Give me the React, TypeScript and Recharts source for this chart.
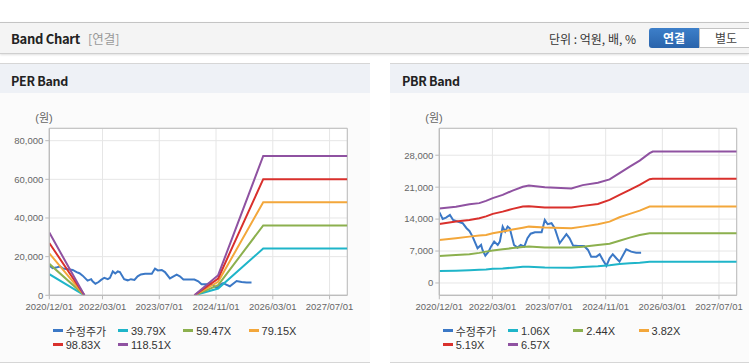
import React from 'react';
import { LineChart, Line, XAxis, YAxis, CartesianGrid, ReferenceArea, Legend, Label } from 'recharts';

// x axis: months since 2020/12/01
const xTickMonths = [0, 15, 31, 47, 63, 79];
const xTickLabels = ['2020/12/01', '2022/03/01', '2023/07/01', '2024/11/01', '2026/03/01', '2027/07/01'];

// 수정주가 (adjusted price)
const priceMonths = [0, 0.96, 1.9, 3.0, 3.9, 5.2, 6.6, 7.7, 8.5, 9.4, 10.8, 11.8, 12.2, 13.0, 13.9, 14.6, 15.5, 16.5, 17.1, 17.9, 18.6, 19.3, 19.9, 21.1, 22.1, 23.0, 24.0, 24.9, 25.8, 27.0, 28.9, 29.8, 30.6, 31.7, 32.6, 34.0, 35.9, 36.8, 37.8, 39.2, 40.9, 42.0, 42.9, 44.4, 45.3, 46.2, 47.2, 48.1, 49.0, 50.0, 50.9, 52.8, 54.2, 55.6, 57.0];
const priceValues = [15500, 14040, 14330, 14920, 13820, 13450, 13100, 12000, 11410, 10160, 7610, 8340, 7240, 5990, 6870, 7960, 9060, 8340, 9060, 12350, 11260, 12350, 12000, 8340, 7750, 8340, 7960, 9800, 10800, 11120, 11120, 13820, 12880, 13100, 12000, 8710, 10680, 9800, 8190, 8120, 8120, 7240, 5770, 5770, 6300, 5050, 3770, 5400, 6300, 5420, 4670, 7390, 6870, 6650, 6650];

// PER band
const perMonths = [0, 9.9, 25, 40.9, 47.6, 60.3, 84];
const per3979 = [10900, 0, null, 0, 3500, 24200, 24200];
const per5947 = [16290, 0, null, 0, 5230, 36170, 36170];
const per7915 = [21680, 0, null, 0, 6960, 48130, 48130];
const per9883 = [27070, 0, null, 0, 8690, 60100, 60100];
const per11851 = [32460, 0, null, 0, 10420, 72070, 72070];
const perNames = ['39.79X', '59.47X', '79.15X', '98.83X', '118.51X'];
const perTicks = [0, 20000, 40000, 60000, 80000];
const perDomain = [0, 86400];

// PBR band
const pbrMonths = [0, 4.7, 8.5, 11.3, 13.2, 15.1, 17.9, 20.7, 23.6, 25.3, 29.8, 37.3, 40.5, 44.8, 48.1, 50.9, 53.8, 56.6, 59.4, 60.3, 84];
const pbr106 = [2630, 2700, 2800, 2900, 2950, 3100, 3200, 3350, 3550, 3580, 3400, 3360, 3500, 3650, 3900, 4170, 4320, 4450, 4650, 4670, 4670];
const pbr244 = [5920, 6140, 6300, 6600, 6870, 7100, 7390, 7650, 7900, 8000, 7800, 7750, 7960, 8340, 8600, 9250, 9940, 10530, 10900, 10920, 10920];
const pbr382 = [9430, 9800, 10160, 10400, 10530, 10900, 11260, 11700, 12100, 12350, 12150, 12000, 12350, 12880, 13450, 14410, 15140, 15860, 16740, 16760, 16760];
const pbr519 = [12950, 13450, 13820, 14200, 14600, 15140, 15640, 16240, 16740, 16800, 16550, 16520, 16900, 17330, 18210, 19310, 20400, 21500, 22750, 22820, 22820];
const pbr657 = [16300, 16700, 17250, 17500, 18000, 18600, 19300, 20250, 21100, 21350, 21000, 20700, 21450, 21950, 22700, 24070, 25520, 26830, 28450, 28800, 28800];
const pbrNames = ['1.06X', '2.44X', '3.82X', '5.19X', '6.57X'];
const pbrTicks = [0, 7000, 14000, 21000, 28000];
const pbrDomain = [-2700, 33900];

const priceName = '수정주가';
const priceColor = '#3b78c6';
const bandColors = ['#1fb5c9', '#8cb04e', '#f3a73b', '#d9302c', '#8f52a1'];

const FONT = '"Liberation Sans", "Noto Sans CJK KR", Arial, sans-serif';
const KFONT = '"Noto Sans CJK KR", sans-serif';

const priceData = priceMonths.map((m, i) => ({ m, v: priceValues[i] }));

function buildBands(months: number[], series: (number | null)[][]) {
  return months.map((m, i) => {
    const row: any = { m };
    series.forEach((s, k) => {
      row['b' + k] = s[i];
    });
    return row;
  });
}

const perData = buildBands(perMonths, [per3979, per5947, per7915, per9883, per11851]);
const pbrData = buildBands(pbrMonths, [pbr106, pbr244, pbr382, pbr519, pbr657]);

const makeLegend = (order: string[]) => (props: any) => {
  const payload = [...(props.payload || [])].sort(
    (a: any, b: any) => order.indexOf(a.value) - order.indexOf(b.value)
  );
  return (
    <div
      style={{
        height: 30,
        width: 52.7 + 4 * 65.3,
        paddingLeft: 52.7,
        paddingTop: 2,
        boxSizing: 'border-box',
        display: 'flex',
        flexWrap: 'wrap',
        fontFamily: FONT,
      }}
    >
      {payload.map((p: any) => (
        <div
          key={p.value}
          style={{ width: 65.3, height: 13.3, display: 'flex', alignItems: 'center', fontSize: 11, color: '#333', whiteSpace: 'nowrap' }}
        >
          <span style={{ display: 'inline-block', width: 10, height: 3, background: p.color, marginRight: 3 }} />
          {p.value}
        </div>
      ))}
    </div>
  );
};

function BandChart(props: {
  width: number;
  rightMargin: number;
  data: any[];
  names: string[];
  ticks: number[];
  domain: number[];
}) {
  const { width, rightMargin, data, names, ticks, domain } = props;
  return (
    <LineChart width={width} height={262} margin={{ top: 28.3, right: rightMargin, bottom: 10, left: 0 }}>
      <CartesianGrid stroke="#e6e6e6" fill="#ffffff" />
      <XAxis
        type="number"
        dataKey="m"
        domain={[0, 84]}
        allowDataOverflow
        ticks={xTickMonths}
        tickFormatter={(v: number) => xTickLabels[xTickMonths.indexOf(v)] || ''}
        height={26.7}
        tickSize={4}
        tickMargin={4}
        interval={0}
        stroke="#bbbbbb"
        tick={{ fontSize: 9.5, fill: '#666', fontFamily: FONT }}
      />
      <YAxis
        type="number"
        domain={domain}
        allowDataOverflow
        ticks={ticks}
        width={49.3}
        tickSize={4}
        tickMargin={2}
        interval={0}
        stroke="#bbbbbb"
        tickFormatter={(v: number) => v.toLocaleString('en-US')}
        tick={{ fontSize: 9.5, fill: '#666', fontFamily: FONT }}
      >
        <Label
          content={() => (
            <text x={44} y={22} textAnchor="middle" fontSize={11} fill="#666" fontFamily={FONT}>
              (원)
            </text>
          )}
        />
      </YAxis>
      <ReferenceArea x1={0} x2={84} y1={domain[0]} y2={domain[1]} fill="none" stroke="#bdbdbd" strokeWidth={1} ifOverflow="extendDomain" />
      <Line data={priceData} dataKey="v" name={priceName} stroke={priceColor} strokeWidth={2} dot={false} isAnimationActive={false} />
      {names.map((n, k) => (
        <Line
          key={n}
          data={data}
          dataKey={'b' + k}
          name={n}
          stroke={bandColors[k]}
          strokeWidth={2}
          dot={false}
          isAnimationActive={false}
          connectNulls={false}
        />
      ))}
      <Legend verticalAlign="bottom" align="left" content={makeLegend([priceName, ...names])} />
    </LineChart>
  );
}

export default function App() {
  return (
    <div style={{ position: 'relative', width: 749, height: 364, background: '#fff', overflow: 'hidden', fontFamily: FONT }}>
      <style>{'body{margin:0}'}</style>
      {/* top header bar */}
      <div
        style={{
          position: 'absolute', left: 0, top: 22, width: 749, height: 30,
          background: '#f4f4f4', borderTop: '1px solid #c4c4c4', borderBottom: '1px solid #cfcfcf',
          boxShadow: '0 1px 2px rgba(0,0,0,0.12)',
        }}
      />
      <div style={{ position: 'absolute', left: 11, top: 31, height: 16, lineHeight: '16px', fontSize: 13, fontWeight: 700, color: '#222', fontFamily: KFONT, letterSpacing: -0.3 }}>
        Band Chart
      </div>
      <div style={{ position: 'absolute', left: 88, top: 31, height: 16, lineHeight: '16px', fontSize: 12.5, color: '#999', fontFamily: KFONT }}>
        [연결]
      </div>
      <div style={{ position: 'absolute', left: 549, top: 31, height: 16, lineHeight: '16px', fontSize: 12, color: '#333', fontFamily: KFONT, whiteSpace: 'pre' }}>
        {'단위 : 억원, 배, %'}
      </div>
      <div style={{ position: 'absolute', left: 649, top: 28, width: 50, height: 20, lineHeight: '20px', textAlign: 'center', background: 'linear-gradient(#3d7fc9, #2a64ab)', color: '#fff', fontSize: 12, fontWeight: 700, borderRadius: '3px 0 0 3px', fontFamily: KFONT }}>
        연결
      </div>
      <div style={{ position: 'absolute', left: 699, top: 28, width: 52, height: 18, lineHeight: '18px', textAlign: 'center', background: '#fff', border: '1px solid #c2c2c2', color: '#444', fontSize: 12, fontFamily: KFONT }}>
        별도
      </div>

      {/* left panel */}
      <div style={{ position: 'absolute', left: 0, top: 63, width: 370, height: 298, background: '#fbfbfb', borderTop: '1px solid #d6d6d6', borderBottom: '1px solid #d6d6d6' }} />
      <div style={{ position: 'absolute', left: 0, top: 64, width: 370, height: 29, background: '#eef1f6' }} />
      <div style={{ position: 'absolute', left: 11, top: 72, height: 17, lineHeight: '17px', fontSize: 12.5, fontWeight: 700, color: '#222', fontFamily: KFONT, letterSpacing: -0.3 }}>
        PER Band
      </div>

      {/* right panel */}
      <div style={{ position: 'absolute', left: 390, top: 63, width: 359, height: 298, background: '#fbfbfb', borderTop: '1px solid #d6d6d6', borderBottom: '1px solid #d6d6d6' }} />
      <div style={{ position: 'absolute', left: 390, top: 64, width: 359, height: 29, background: '#eef1f6' }} />
      <div style={{ position: 'absolute', left: 402, top: 72, height: 17, lineHeight: '17px', fontSize: 12.5, fontWeight: 700, color: '#222', fontFamily: KFONT, letterSpacing: -0.3 }}>
        PBR Band
      </div>

      <div style={{ position: 'absolute', left: 0, top: 100 }}>
        <BandChart width={370} rightMargin={22.7} data={perData} names={perNames} ticks={perTicks} domain={perDomain} />
      </div>
      <div style={{ position: 'absolute', left: 390, top: 100 }}>
        <BandChart width={359} rightMargin={12.3} data={pbrData} names={pbrNames} ticks={pbrTicks} domain={pbrDomain} />
      </div>
    </div>
  );
}
